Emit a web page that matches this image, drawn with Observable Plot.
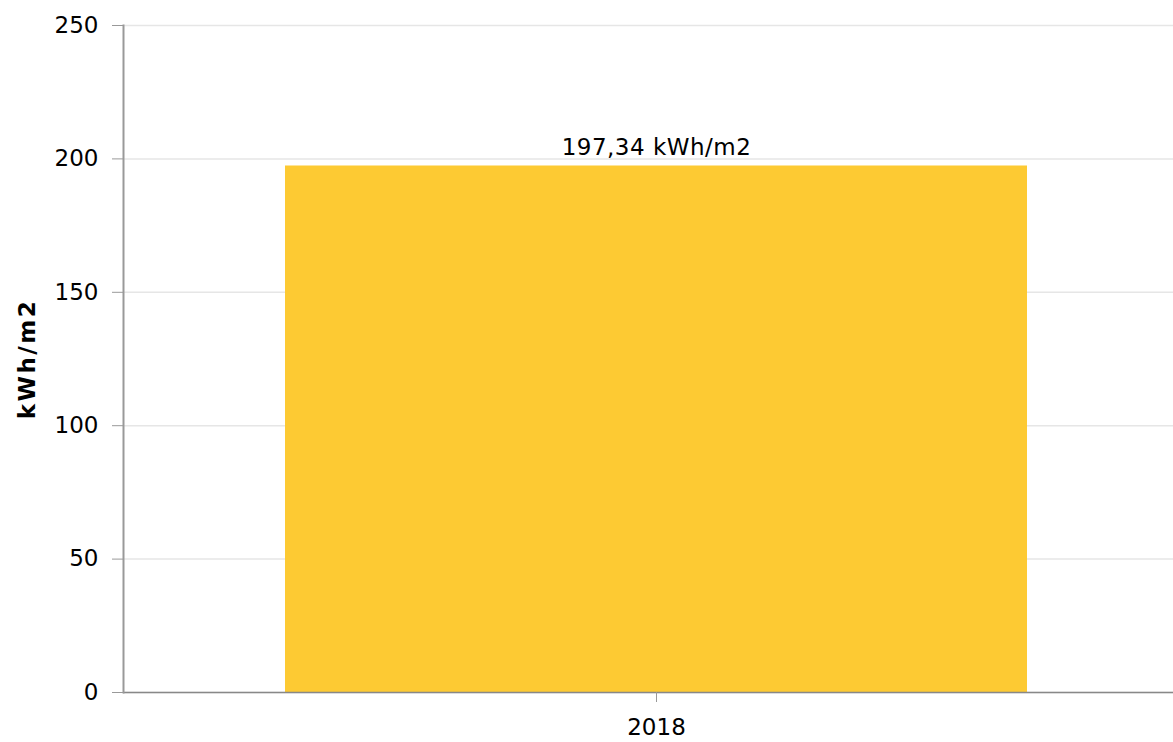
<!DOCTYPE html>
<html>
<head>
<meta charset="utf-8">
<script src="https://cdn.jsdelivr.net/npm/d3@7"></script>
<script src="https://cdn.jsdelivr.net/npm/@observablehq/plot@0.6"></script>
<style>
  html, body { margin: 0; padding: 0; background: #fff; }
  svg { display: block; }
</style>
</head>
<body>
<div id="chart"></div>
<script>
const years = ["2018"];
const values = [197.34];
const valueLabels = ["197,34 kWh/m2"];
const yTicks = [0, 50, 100, 150, 200, 250];
const yTitle = "kWh/m2";

const data = years.map((y, i) => ({year: y, value: values[i], label: valueLabels[i]}));

const font = "'DejaVu Sans', Verdana, sans-serif";

const chart = Plot.plot({
  width: 1173,
  height: 742,
  marginLeft: 123,
  marginRight: 0,
  marginTop: 25,
  marginBottom: 50,
  style: {fontFamily: font, fontSize: "23px", color: "#000", background: "#fff"},
  x: {type: "band", domain: years, range: [123, 1188], paddingInner: 0, paddingOuter: 0.2167},
  y: {domain: [0, 250]},
  marks: [
    Plot.gridY(yTicks, {stroke: "#e6e6e6", strokeOpacity: 1, strokeWidth: 1.5}),
    Plot.barY(data, {x: "year", y: "value", fill: "#fdca33"}),
    Plot.ruleY([0], {stroke: "#888", strokeWidth: 1.5}),
    Plot.frame({anchor: "left", stroke: "#999", strokeWidth: 2}),
    Plot.axisY(yTicks, {tickSize: 11, tickPadding: 14, stroke: "#999", fill: "#000", fontSize: 23, label: null}),
    Plot.axisX({tickSize: 10, tickPadding: 16, stroke: "#999", fill: "#000", fontSize: 23, label: null}),
    Plot.text(data, {x: "year", y: "value", text: "label", dy: -18, fill: "#000", fontSize: 23}),
    Plot.text([yTitle], {frameAnchor: "left", textAnchor: "middle", rotate: -90, dx: -96, fontWeight: "bold", fontSize: 23, fill: "#000"})
  ]
});
chart.querySelectorAll("text").forEach(t => {
  if (t.textContent === yTitle) t.style.letterSpacing = "2.5px";
  if (t.textContent === valueLabels[0]) t.style.letterSpacing = "0.5px";
});
document.getElementById("chart").appendChild(chart);
</script>
</body>
</html>
